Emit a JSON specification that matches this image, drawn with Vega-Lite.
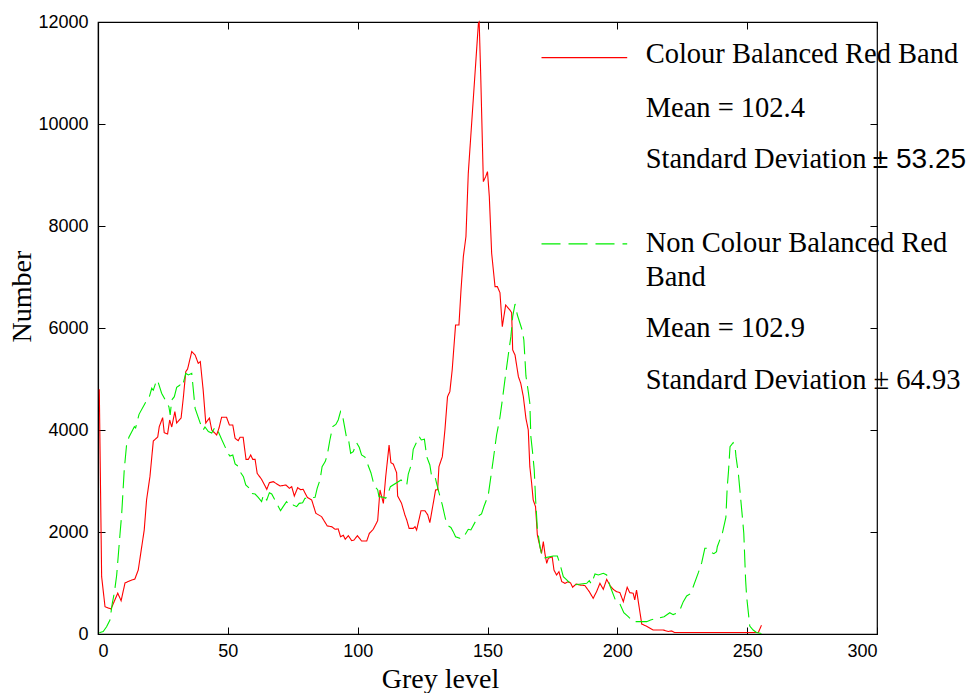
{
  "$schema": "https://vega.github.io/schema/vega-lite/v6.json",
  "width": 779,
  "height": 612,
  "autosize": "none",
  "padding": {"left": 98, "top": 22, "right": 98, "bottom": 59},
  "background": "white",
  "config": {
    "view": {"stroke": "black", "strokeWidth": 1.2},
    "axis": {"grid": false, "domainColor": "black", "tickColor": "black", "labelColor": "black", "titleColor": "black", "labelFont": "Liberation Sans", "labelFontSize": 18, "titleFont": "Liberation Serif", "titleFontSize": 28, "titleFontWeight": "normal", "domainWidth": 1.2, "tickWidth": 1, "tickSize": 7}
  },
  "datasets": {
    "curves": [
      {"g":0.5,"n":4800,"s":"balanced"},{"g":1.4,"n":1124,"s":"balanced"},{"g":2.7,"n":535,"s":"balanced"},{"g":5,"n":490,"s":"balanced"},{"g":7.6,"n":800,"s":"balanced"},{"g":8.9,"n":653,"s":"balanced"},{"g":10.4,"n":1000,"s":"balanced"},{"g":12.3,"n":1045,"s":"balanced"},{"g":14.2,"n":1078,"s":"balanced"},{"g":15.5,"n":1255,"s":"balanced"},{"g":17.8,"n":2039,"s":"balanced"},{"g":18.7,"n":2628,"s":"balanced"},{"g":20,"n":3085,"s":"balanced"},{"g":21.3,"n":3785,"s":"balanced"},{"g":23,"n":3863,"s":"balanced"},{"g":23.6,"n":4066,"s":"balanced"},{"g":24.9,"n":4242,"s":"balanced"},{"g":25.5,"n":3948,"s":"balanced"},{"g":26.8,"n":3922,"s":"balanced"},{"g":27.6,"n":4196,"s":"balanced"},{"g":28.4,"n":4059,"s":"balanced"},{"g":29.6,"n":4360,"s":"balanced"},{"g":30.3,"n":4137,"s":"balanced"},{"g":32,"n":4235,"s":"balanced"},{"g":32.9,"n":4654,"s":"balanced"},{"g":33.8,"n":5144,"s":"balanced"},{"g":34.5,"n":5196,"s":"balanced"},{"g":36.1,"n":5536,"s":"balanced"},{"g":37.4,"n":5471,"s":"balanced"},{"g":38.6,"n":5307,"s":"balanced"},{"g":39.4,"n":5340,"s":"balanced"},{"g":40.5,"n":4785,"s":"balanced"},{"g":41.5,"n":4137,"s":"balanced"},{"g":42.9,"n":4235,"s":"balanced"},{"g":43.8,"n":4000,"s":"balanced"},{"g":45.7,"n":3902,"s":"balanced"},{"g":46.6,"n":4039,"s":"balanced"},{"g":47.6,"n":4249,"s":"balanced"},{"g":49.5,"n":4249,"s":"balanced"},{"g":50.6,"n":4098,"s":"balanced"},{"g":51.9,"n":4098,"s":"balanced"},{"g":52.8,"n":3837,"s":"balanced"},{"g":54,"n":3791,"s":"balanced"},{"g":54.7,"n":3857,"s":"balanced"},{"g":55.9,"n":3857,"s":"balanced"},{"g":57,"n":3425,"s":"balanced"},{"g":57.9,"n":3425,"s":"balanced"},{"g":58.8,"n":3510,"s":"balanced"},{"g":59.6,"n":3425,"s":"balanced"},{"g":60.5,"n":3425,"s":"balanced"},{"g":61.3,"n":3150,"s":"balanced"},{"g":63,"n":3033,"s":"balanced"},{"g":65,"n":2837,"s":"balanced"},{"g":66,"n":2967,"s":"balanced"},{"g":67.5,"n":2987,"s":"balanced"},{"g":70.1,"n":2902,"s":"balanced"},{"g":72.4,"n":2922,"s":"balanced"},{"g":73.7,"n":2856,"s":"balanced"},{"g":74.6,"n":2889,"s":"balanced"},{"g":75.6,"n":2706,"s":"balanced"},{"g":76.9,"n":2869,"s":"balanced"},{"g":78,"n":2830,"s":"balanced"},{"g":79,"n":2837,"s":"balanced"},{"g":80.6,"n":2680,"s":"balanced"},{"g":82.3,"n":2627,"s":"balanced"},{"g":83.9,"n":2366,"s":"balanced"},{"g":86.1,"n":2301,"s":"balanced"},{"g":88.3,"n":2118,"s":"balanced"},{"g":90,"n":2104,"s":"balanced"},{"g":91.3,"n":2053,"s":"balanced"},{"g":92.5,"n":2060,"s":"balanced"},{"g":93.4,"n":1908,"s":"balanced"},{"g":94.5,"n":1935,"s":"balanced"},{"g":95.2,"n":1857,"s":"balanced"},{"g":96.4,"n":1928,"s":"balanced"},{"g":97.7,"n":1830,"s":"balanced"},{"g":98.6,"n":1843,"s":"balanced"},{"g":99.9,"n":1928,"s":"balanced"},{"g":101.5,"n":1824,"s":"balanced"},{"g":103.5,"n":1824,"s":"balanced"},{"g":104.5,"n":1974,"s":"balanced"},{"g":106,"n":2053,"s":"balanced"},{"g":107.7,"n":2222,"s":"balanced"},{"g":108.6,"n":2824,"s":"balanced"},{"g":109.9,"n":2562,"s":"balanced"},{"g":110.8,"n":3085,"s":"balanced"},{"g":112.1,"n":3706,"s":"balanced"},{"g":112.8,"n":3360,"s":"balanced"},{"g":113.7,"n":3334,"s":"balanced"},{"g":115,"n":3163,"s":"balanced"},{"g":115.4,"n":2706,"s":"balanced"},{"g":116.9,"n":2562,"s":"balanced"},{"g":118.2,"n":2334,"s":"balanced"},{"g":118.9,"n":2236,"s":"balanced"},{"g":119.8,"n":2072,"s":"balanced"},{"g":121.4,"n":2072,"s":"balanced"},{"g":122.1,"n":2104,"s":"balanced"},{"g":122.7,"n":2039,"s":"balanced"},{"g":124.4,"n":2418,"s":"balanced"},{"g":125.9,"n":2418,"s":"balanced"},{"g":127,"n":2334,"s":"balanced"},{"g":127.8,"n":2183,"s":"balanced"},{"g":129.1,"n":2562,"s":"balanced"},{"g":130,"n":2824,"s":"balanced"},{"g":130.8,"n":2830,"s":"balanced"},{"g":131.3,"n":3281,"s":"balanced"},{"g":132.6,"n":3477,"s":"balanced"},{"g":133.6,"n":4000,"s":"balanced"},{"g":134.6,"n":4654,"s":"balanced"},{"g":135.5,"n":4752,"s":"balanced"},{"g":136.4,"n":5177,"s":"balanced"},{"g":137.7,"n":6059,"s":"balanced"},{"g":139,"n":6059,"s":"balanced"},{"g":139.8,"n":6746,"s":"balanced"},{"g":140.7,"n":7400,"s":"balanced"},{"g":141.7,"n":7791,"s":"balanced"},{"g":142.6,"n":9034,"s":"balanced"},{"g":143.9,"n":10015,"s":"balanced"},{"g":145.2,"n":10995,"s":"balanced"},{"g":146.5,"n":11977,"s":"balanced"},{"g":146.8,"n":12000,"s":"balanced"},{"g":147.4,"n":10930,"s":"balanced"},{"g":148.4,"n":8870,"s":"balanced"},{"g":149.3,"n":8968,"s":"balanced"},{"g":150,"n":9066,"s":"balanced"},{"g":150.7,"n":8576,"s":"balanced"},{"g":151.6,"n":7465,"s":"balanced"},{"g":152.9,"n":6811,"s":"balanced"},{"g":153.8,"n":6811,"s":"balanced"},{"g":154.8,"n":6693,"s":"balanced"},{"g":155.7,"n":6026,"s":"balanced"},{"g":157,"n":6452,"s":"balanced"},{"g":158.6,"n":6354,"s":"balanced"},{"g":159.3,"n":6301,"s":"balanced"},{"g":159.7,"n":5569,"s":"balanced"},{"g":160.6,"n":5471,"s":"balanced"},{"g":161.9,"n":5046,"s":"balanced"},{"g":162.8,"n":4916,"s":"balanced"},{"g":163.8,"n":4654,"s":"balanced"},{"g":164.8,"n":4229,"s":"balanced"},{"g":165.7,"n":4000,"s":"balanced"},{"g":166.3,"n":3281,"s":"balanced"},{"g":167,"n":2955,"s":"balanced"},{"g":167.6,"n":2628,"s":"balanced"},{"g":168.5,"n":2497,"s":"balanced"},{"g":169.2,"n":1941,"s":"balanced"},{"g":170.2,"n":1712,"s":"balanced"},{"g":170.8,"n":1582,"s":"balanced"},{"g":171.5,"n":1811,"s":"balanced"},{"g":172.1,"n":1582,"s":"balanced"},{"g":172.8,"n":1386,"s":"balanced"},{"g":173.4,"n":1484,"s":"balanced"},{"g":174.9,"n":1516,"s":"balanced"},{"g":175.6,"n":1255,"s":"balanced"},{"g":176.6,"n":1157,"s":"balanced"},{"g":177.5,"n":1222,"s":"balanced"},{"g":178.6,"n":1026,"s":"balanced"},{"g":179.8,"n":994,"s":"balanced"},{"g":181.1,"n":1026,"s":"balanced"},{"g":182,"n":1000,"s":"balanced"},{"g":182.8,"n":916,"s":"balanced"},{"g":184.1,"n":980,"s":"balanced"},{"g":185.6,"n":960,"s":"balanced"},{"g":187.5,"n":950,"s":"balanced"},{"g":189.2,"n":830,"s":"balanced"},{"g":190.7,"n":700,"s":"balanced"},{"g":192,"n":830,"s":"balanced"},{"g":193.3,"n":994,"s":"balanced"},{"g":194.6,"n":876,"s":"balanced"},{"g":195.9,"n":1072,"s":"balanced"},{"g":197.2,"n":950,"s":"balanced"},{"g":198.4,"n":876,"s":"balanced"},{"g":199.7,"n":830,"s":"balanced"},{"g":201,"n":810,"s":"balanced"},{"g":202.3,"n":634,"s":"balanced"},{"g":203.8,"n":916,"s":"balanced"},{"g":204.8,"n":810,"s":"balanced"},{"g":206.1,"n":800,"s":"balanced"},{"g":206.7,"n":667,"s":"balanced"},{"g":207.4,"n":863,"s":"balanced"},{"g":209.4,"n":196,"s":"balanced"},{"g":211.3,"n":150,"s":"balanced"},{"g":213.8,"n":78,"s":"balanced"},{"g":217.7,"n":78,"s":"balanced"},{"g":219.6,"n":50,"s":"balanced"},{"g":220.9,"n":60,"s":"balanced"},{"g":222,"n":30,"s":"balanced"},{"g":254.3,"n":30,"s":"balanced"},{"g":255.5,"n":170,"s":"balanced"},
      {"g":0.5,"n":26,"s":"non"},{"g":2,"n":50,"s":"non"},{"g":3.3,"n":143,"s":"non"},{"g":4.6,"n":275,"s":"non"},{"g":5.5,"n":601,"s":"non"},{"g":6.3,"n":810,"s":"non"},{"g":7.2,"n":1157,"s":"non"},{"g":8.5,"n":1975,"s":"non"},{"g":9.1,"n":2334,"s":"non"},{"g":10.1,"n":3216,"s":"non"},{"g":11,"n":3706,"s":"non"},{"g":11.9,"n":3857,"s":"non"},{"g":13,"n":3968,"s":"non"},{"g":14,"n":4066,"s":"non"},{"g":14.5,"n":4040,"s":"non"},{"g":15.8,"n":4307,"s":"non"},{"g":18.7,"n":4576,"s":"non"},{"g":19.6,"n":4622,"s":"non"},{"g":20.7,"n":4818,"s":"non"},{"g":21.3,"n":4780,"s":"non"},{"g":22.6,"n":4981,"s":"non"},{"g":23.2,"n":4930,"s":"non"},{"g":24.5,"n":4720,"s":"non"},{"g":27.3,"n":4458,"s":"non"},{"g":27.8,"n":4295,"s":"non"},{"g":28.4,"n":4589,"s":"non"},{"g":29.4,"n":4654,"s":"non"},{"g":30.3,"n":4837,"s":"non"},{"g":31.6,"n":4883,"s":"non"},{"g":32.5,"n":4850,"s":"non"},{"g":33.8,"n":5112,"s":"non"},{"g":34.8,"n":5080,"s":"non"},{"g":36.1,"n":5112,"s":"non"},{"g":37.4,"n":4425,"s":"non"},{"g":39.4,"n":4131,"s":"non"},{"g":40.5,"n":4000,"s":"non"},{"g":41.2,"n":4060,"s":"non"},{"g":42.5,"n":3970,"s":"non"},{"g":43.8,"n":3940,"s":"non"},{"g":45.1,"n":4060,"s":"non"},{"g":46.3,"n":3970,"s":"non"},{"g":47.6,"n":3817,"s":"non"},{"g":50.2,"n":3530,"s":"non"},{"g":50.8,"n":3490,"s":"non"},{"g":51.9,"n":3510,"s":"non"},{"g":52.8,"n":3334,"s":"non"},{"g":53.7,"n":3300,"s":"non"},{"g":54.7,"n":3183,"s":"non"},{"g":56,"n":3085,"s":"non"},{"g":56.9,"n":2922,"s":"non"},{"g":58.3,"n":2857,"s":"non"},{"g":58.8,"n":2759,"s":"non"},{"g":60.5,"n":2745,"s":"non"},{"g":61.7,"n":2680,"s":"non"},{"g":63,"n":2595,"s":"non"},{"g":63.7,"n":2726,"s":"non"},{"g":65,"n":2627,"s":"non"},{"g":66,"n":2771,"s":"non"},{"g":66.9,"n":2745,"s":"non"},{"g":70.3,"n":2418,"s":"non"},{"g":71.3,"n":2497,"s":"non"},{"g":72.6,"n":2595,"s":"non"},{"g":73.9,"n":2510,"s":"non"},{"g":75.2,"n":2530,"s":"non"},{"g":76.5,"n":2497,"s":"non"},{"g":77.5,"n":2562,"s":"non"},{"g":78.8,"n":2575,"s":"non"},{"g":79.7,"n":2660,"s":"non"},{"g":83.6,"n":2680,"s":"non"},{"g":84.4,"n":2857,"s":"non"},{"g":85.5,"n":3020,"s":"non"},{"g":86.3,"n":3281,"s":"non"},{"g":87.5,"n":3380,"s":"non"},{"g":88.3,"n":3510,"s":"non"},{"g":89.3,"n":3804,"s":"non"},{"g":90.4,"n":4066,"s":"non"},{"g":91.6,"n":4110,"s":"non"},{"g":92.5,"n":4196,"s":"non"},{"g":93.4,"n":4360,"s":"non"},{"g":94.2,"n":4275,"s":"non"},{"g":94.9,"n":4079,"s":"non"},{"g":96,"n":3771,"s":"non"},{"g":96.6,"n":3771,"s":"non"},{"g":97.3,"n":3543,"s":"non"},{"g":98.3,"n":3575,"s":"non"},{"g":99.6,"n":3752,"s":"non"},{"g":100.6,"n":3660,"s":"non"},{"g":101.5,"n":3510,"s":"non"},{"g":102.8,"n":3470,"s":"non"},{"g":105.1,"n":3163,"s":"non"},{"g":106.4,"n":2902,"s":"non"},{"g":107.7,"n":2830,"s":"non"},{"g":108.2,"n":2693,"s":"non"},{"g":109.9,"n":2680,"s":"non"},{"g":110.8,"n":2660,"s":"non"},{"g":111.8,"n":2770,"s":"non"},{"g":112.6,"n":2889,"s":"non"},{"g":116.7,"n":3020,"s":"non"},{"g":118.9,"n":2922,"s":"non"},{"g":119.5,"n":3137,"s":"non"},{"g":120.8,"n":3347,"s":"non"},{"g":121.4,"n":3622,"s":"non"},{"g":123.7,"n":3870,"s":"non"},{"g":124.5,"n":3805,"s":"non"},{"g":125.7,"n":3820,"s":"non"},{"g":126.6,"n":3477,"s":"non"},{"g":127.8,"n":3314,"s":"non"},{"g":128.5,"n":3085,"s":"non"},{"g":129.8,"n":3085,"s":"non"},{"g":130.4,"n":2955,"s":"non"},{"g":131.7,"n":2693,"s":"non"},{"g":132.6,"n":2530,"s":"non"},{"g":133.9,"n":2236,"s":"non"},{"g":134.9,"n":2118,"s":"non"},{"g":135.9,"n":2090,"s":"non"},{"g":136.8,"n":2007,"s":"non"},{"g":137.7,"n":1908,"s":"non"},{"g":139.4,"n":1876,"s":"non"},{"g":140.3,"n":1941,"s":"non"},{"g":141.3,"n":1941,"s":"non"},{"g":142.6,"n":2053,"s":"non"},{"g":143.6,"n":2040,"s":"non"},{"g":146.5,"n":2314,"s":"non"},{"g":147.7,"n":2353,"s":"non"},{"g":148.7,"n":2510,"s":"non"},{"g":150.3,"n":2726,"s":"non"},{"g":151.3,"n":3085,"s":"non"},{"g":152.2,"n":3412,"s":"non"},{"g":153.5,"n":3902,"s":"non"},{"g":154.8,"n":4250,"s":"non"},{"g":155.8,"n":4622,"s":"non"},{"g":156.7,"n":4981,"s":"non"},{"g":158,"n":5471,"s":"non"},{"g":159,"n":5830,"s":"non"},{"g":159.7,"n":6222,"s":"non"},{"g":160.6,"n":6471,"s":"non"},{"g":161.5,"n":6255,"s":"non"},{"g":163.4,"n":5948,"s":"non"},{"g":164,"n":5765,"s":"non"},{"g":164.8,"n":5060,"s":"non"},{"g":165.7,"n":4752,"s":"non"},{"g":166.3,"n":4524,"s":"non"},{"g":166.7,"n":3870,"s":"non"},{"g":167.4,"n":3543,"s":"non"},{"g":168,"n":3215,"s":"non"},{"g":168.5,"n":2660,"s":"non"},{"g":169.2,"n":2072,"s":"non"},{"g":170.2,"n":1712,"s":"non"},{"g":171.2,"n":1484,"s":"non"},{"g":175.3,"n":1530,"s":"non"},{"g":176.9,"n":1530,"s":"non"},{"g":177.9,"n":1373,"s":"non"},{"g":179.2,"n":1124,"s":"non"},{"g":180.5,"n":1060,"s":"non"},{"g":181.7,"n":1000,"s":"non"},{"g":182.8,"n":960,"s":"non"},{"g":188.2,"n":994,"s":"non"},{"g":189.2,"n":1046,"s":"non"},{"g":190,"n":980,"s":"non"},{"g":191.4,"n":1177,"s":"non"},{"g":192.7,"n":1157,"s":"non"},{"g":194.6,"n":1190,"s":"non"},{"g":195.9,"n":1157,"s":"non"},{"g":197.2,"n":941,"s":"non"},{"g":199.5,"n":634,"s":"non"},{"g":201,"n":590,"s":"non"},{"g":202.5,"n":418,"s":"non"},{"g":204.2,"n":340,"s":"non"},{"g":206.1,"n":242,"s":"non"},{"g":208.7,"n":242,"s":"non"},{"g":211.3,"n":242,"s":"non"},{"g":212.8,"n":275,"s":"non"},{"g":218,"n":340,"s":"non"},{"g":220.2,"n":418,"s":"non"},{"g":221.5,"n":380,"s":"non"},{"g":222.8,"n":405,"s":"non"},{"g":224.1,"n":470,"s":"non"},{"g":225.4,"n":634,"s":"non"},{"g":226.7,"n":745,"s":"non"},{"g":228,"n":785,"s":"non"},{"g":229,"n":896,"s":"non"},{"g":231.2,"n":1203,"s":"non"},{"g":232.5,"n":1398,"s":"non"},{"g":233.7,"n":1680,"s":"non"},{"g":234.6,"n":1680,"s":"non"},{"g":235.7,"n":1614,"s":"non"},{"g":237.2,"n":1575,"s":"non"},{"g":238.2,"n":1614,"s":"non"},{"g":238.5,"n":1712,"s":"non"},{"g":240.5,"n":1987,"s":"non"},{"g":241.8,"n":2288,"s":"non"},{"g":242.3,"n":2857,"s":"non"},{"g":242.8,"n":3183,"s":"non"},{"g":243.4,"n":3673,"s":"non"},{"g":244.6,"n":3752,"s":"non"},{"g":245.3,"n":3700,"s":"non"},{"g":245.7,"n":3477,"s":"non"},{"g":246.6,"n":3150,"s":"non"},{"g":248.2,"n":2268,"s":"non"},{"g":248.7,"n":1975,"s":"non"},{"g":249.4,"n":1059,"s":"non"},{"g":249.8,"n":731,"s":"non"},{"g":251,"n":157,"s":"non"},{"g":252.3,"n":78,"s":"non"},{"g":253.6,"n":30,"s":"non"},{"g":255.5,"n":10,"s":"non"}
    ]
  },
  "layer": [
    {
      "layer": [
        {
          "data": {"name": "curves"},
          "mark": {"type": "line", "strokeWidth": 1.1},
          "encoding": {
            "x": {"field": "g", "type": "quantitative", "scale": {"domain": [0, 300], "nice": false, "zero": false}, "axis": {"title": "Grey level", "values": [0, 50, 100, 150, 200, 250, 300], "ticks": false, "labelPadding": 8, "titlePadding": 5, "titleX": 342}},
            "y": {"field": "n", "type": "quantitative", "scale": {"domain": [0, 12000], "nice": false}, "axis": {"title": "Number", "values": [0, 2000, 4000, 6000, 8000, 10000, 12000], "format": "d", "ticks": false, "labelPadding": 10, "titlePadding": 1, "titleY": 274}},
            "color": {"field": "s", "type": "nominal", "scale": {"domain": ["balanced", "non"], "range": ["#ff0000", "#00ee00"]}, "legend": null},
            "strokeDash": {"field": "s", "type": "nominal", "scale": {"domain": ["balanced", "non"], "range": [[1, 0], [18, 7]]}, "legend": null}
          }
        },
        {
          "data": {"values": [{}]},
          "mark": {"type": "rule", "color": "#ff0000", "strokeWidth": 1.3},
          "encoding": {"x": {"datum": 170.8, "type": "quantitative"}, "x2": {"datum": 203.8}, "y": {"datum": 11301, "type": "quantitative"}}
        },
        {
          "data": {"values": [{}]},
          "mark": {"type": "rule", "color": "#00ee00", "strokeWidth": 1.3, "strokeDash": [19, 8]},
          "encoding": {"x": {"datum": 170.8, "type": "quantitative"}, "x2": {"datum": 203.8}, "y": {"datum": 7648, "type": "quantitative"}}
        },
        {"data": {"values": [{}]}, "mark": {"type": "text", "align": "left", "baseline": "alphabetic", "font": "Liberation Serif", "fontSize": 28.5, "color": "black"},
         "encoding": {"x": {"datum": 210.9, "type": "quantitative"}, "y": {"datum": 11198, "type": "quantitative"}, "text": {"value": "Colour Balanced Red Band"}}},
        {"data": {"values": [{}]}, "mark": {"type": "text", "align": "left", "baseline": "alphabetic", "font": "Liberation Serif", "fontSize": 28.5, "color": "black"},
         "encoding": {"x": {"datum": 210.9, "type": "quantitative"}, "y": {"datum": 10145, "type": "quantitative"}, "text": {"value": "Mean = 102.4"}}},
        {"data": {"values": [{}]}, "mark": {"type": "text", "align": "left", "baseline": "alphabetic", "font": "Liberation Serif", "fontSize": 28.5, "color": "black"},
         "encoding": {"x": {"datum": 210.9, "type": "quantitative"}, "y": {"datum": 9132, "type": "quantitative"}, "text": {"value": "Standard Deviation"}}},
        {"data": {"values": [{}]}, "mark": {"type": "text", "align": "left", "baseline": "alphabetic", "font": "Liberation Sans", "fontSize": 28, "color": "black"},
         "encoding": {"x": {"datum": 298.4, "type": "quantitative"}, "y": {"datum": 9132, "type": "quantitative"}, "text": {"value": "± 53.25"}}},
        {"data": {"values": [{}]}, "mark": {"type": "text", "align": "left", "baseline": "alphabetic", "font": "Liberation Serif", "fontSize": 28.5, "color": "black"},
         "encoding": {"x": {"datum": 210.9, "type": "quantitative"}, "y": {"datum": 7497, "type": "quantitative"}, "text": {"value": "Non Colour Balanced Red"}}},
        {"data": {"values": [{}]}, "mark": {"type": "text", "align": "left", "baseline": "alphabetic", "font": "Liberation Serif", "fontSize": 28.5, "color": "black"},
         "encoding": {"x": {"datum": 210.9, "type": "quantitative"}, "y": {"datum": 6830, "type": "quantitative"}, "text": {"value": "Band"}}},
        {"data": {"values": [{}]}, "mark": {"type": "text", "align": "left", "baseline": "alphabetic", "font": "Liberation Serif", "fontSize": 28.5, "color": "black"},
         "encoding": {"x": {"datum": 210.9, "type": "quantitative"}, "y": {"datum": 5818, "type": "quantitative"}, "text": {"value": "Mean = 102.9"}}},
        {"data": {"values": [{}]}, "mark": {"type": "text", "align": "left", "baseline": "alphabetic", "font": "Liberation Serif", "fontSize": 28.5, "color": "black"},
         "encoding": {"x": {"datum": 210.9, "type": "quantitative"}, "y": {"datum": 4805, "type": "quantitative"}, "text": {"value": "Standard Deviation ± 64.93"}}}
      ]
    },
    {
      "data": {"name": "curves"},
      "mark": {"type": "line", "opacity": 0},
      "encoding": {
        "x": {"field": "g", "type": "quantitative", "scale": {"domain": [0, 300], "nice": false, "zero": false}, "axis": {"orient": "bottom", "offset": -7, "title": null, "labels": false, "values": [0, 50, 100, 150, 200, 250, 300], "domain": false}},
        "y": {"field": "n", "type": "quantitative", "scale": {"domain": [0, 12000], "nice": false}, "axis": {"orient": "left", "offset": -7, "title": null, "labels": false, "values": [0, 2000, 4000, 6000, 8000, 10000, 12000], "domain": false}}
      }
    },
    {
      "data": {"name": "curves"},
      "mark": {"type": "line", "opacity": 0},
      "encoding": {
        "x": {"field": "g", "type": "quantitative", "scale": {"domain": [0, 300], "nice": false, "zero": false}, "axis": {"orient": "top", "offset": -7, "title": null, "labels": false, "values": [0, 50, 100, 150, 200, 250, 300], "domain": false}},
        "y": {"field": "n", "type": "quantitative", "scale": {"domain": [0, 12000], "nice": false}, "axis": {"orient": "right", "offset": -7, "title": null, "labels": false, "values": [0, 2000, 4000, 6000, 8000, 10000, 12000], "domain": false}}
      }
    }
  ],
  "resolve": {"axis": {"x": "independent", "y": "independent"}}
}
